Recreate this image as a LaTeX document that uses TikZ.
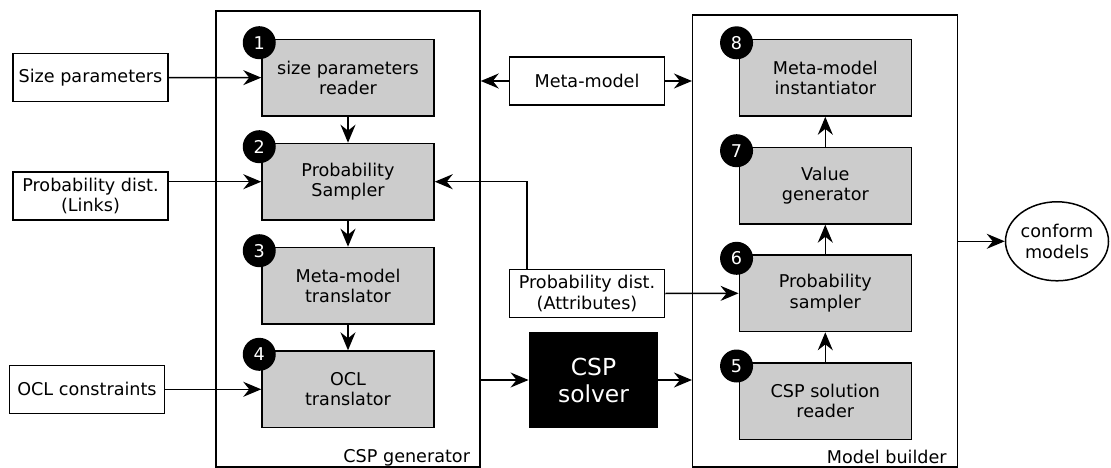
\documentclass[tikz,border=0pt]{standalone}
\usepackage{fontspec}
\setmainfont{DejaVu Sans}
\usetikzlibrary{positioning,
				arrows.meta,
				shapes.geometric,
				calc}

\begin{document}
\begin{tikzpicture}[x=1pt,y=-1pt,
		font=\fontsize{17.6}{20.5}\selectfont,
		line width=1.5pt,
		stage/.style={draw, fill=black!20, minimum width=172pt, minimum height=76.5pt, align=center, inner sep=2pt},
		inbox/.style={draw, fill=white, minimum width=155pt, minimum height=48pt, align=center, inner sep=2pt},
		num/.style={circle, fill=black, text=white, minimum size=33pt, inner sep=0pt},
		frame/.style={draw},
		>={Stealth[length=18pt,width=15pt,inset=6pt]}
		]
		\useasboundingbox (0,0) rectangle (1111,468);
		% the two blocks
		\node[frame, minimum width=264pt, minimum height=456pt] (gen) at (348,239) {};
		\node[frame, minimum width=264.6pt, minimum height=452pt] (builder) at (825,241) {};
		\node[anchor=base east, inner sep=0pt] at ([shift={(-10,-5)}]gen.south east) {CSP generator};
		\node[anchor=base east, inner sep=0pt] at ([shift={(-10.6,-4)}]builder.south east) {Model builder};
		% steps
		\foreach \name/\x/\y/\k/\txt in {
			reader/348/77.7/1/{size parameters\\reader},
			sampler/348/181.7/2/{Probability\\Sampler},
			mmtrans/348/285.7/3/{Meta-model\\translator},
			ocltrans/348/389.3/4/{OCL\\translator},
			solreader/825.3/401/5/{CSP solution\\reader},
			psamp/825.3/293.3/6/{Probability\\sampler},
			valgen/825.3/185.7/7/{Value\\generator},
			inst/825.3/77.8/8/{Meta-model\\instantiator}}
		{
			\node[stage] (\name) at (\x,\y) {\txt};
			\node[num] at ([shift={(-2,4)}]\name.north west) {\k};
		}
		% inputs
		\node[inbox] (size) at (90.5,77.5) {Size parameters};
		\node[inbox] (links) at (90.5,196) {Probability dist.\\(Links)};
		\node[inbox] (ocl) at (87,389.3) {OCL constraints};
		\node[inbox] (meta) at (587,81) {Meta-model};
		\node[inbox] (attr) at (587,293.5) {Probability dist.\\(Attributes)};
		\node[fill=black, text=white, minimum width=128.4pt, minimum height=96.6pt, align=center,
			font=\fontsize{23.4}{27}\selectfont] (solver) at (593.5,380) {CSP\\solver};
		\node[draw, ellipse, minimum width=103pt, minimum height=79pt, inner sep=0pt, align=center] (conform) at (1057,241.3) {conform\\models};
		% connectors
		\draw[->] (size) -- (reader);
		\draw[->] (links.east |- sampler.west) -- (sampler.west);
		\draw[->] (ocl) -- (ocltrans);
		\draw[->] (reader) -- (sampler);
		\draw[->] (sampler) -- (mmtrans);
		\draw[->] (mmtrans) -- (ocltrans);
		\draw[->] (solreader) -- (psamp);
		\draw[->] (psamp) -- (valgen);
		\draw[->] (valgen) -- (inst);
		\draw[->] (meta.west) -- (meta.west -| gen.east);
		\draw[->] (meta.east) -- (meta.east -| builder.west);
		\draw[->] ([xshift=18]attr.north west) |- (sampler.east);
		\draw[->] (attr.east) -- (psamp.west);
		\draw[->] (solver.west -| gen.east) -- (solver.west);
		\draw[->] (solver.east) -- (solver.east -| builder.west);
		\draw[->] (conform.west -| builder.east) -- (conform.west);
\end{tikzpicture}
\end{document}
